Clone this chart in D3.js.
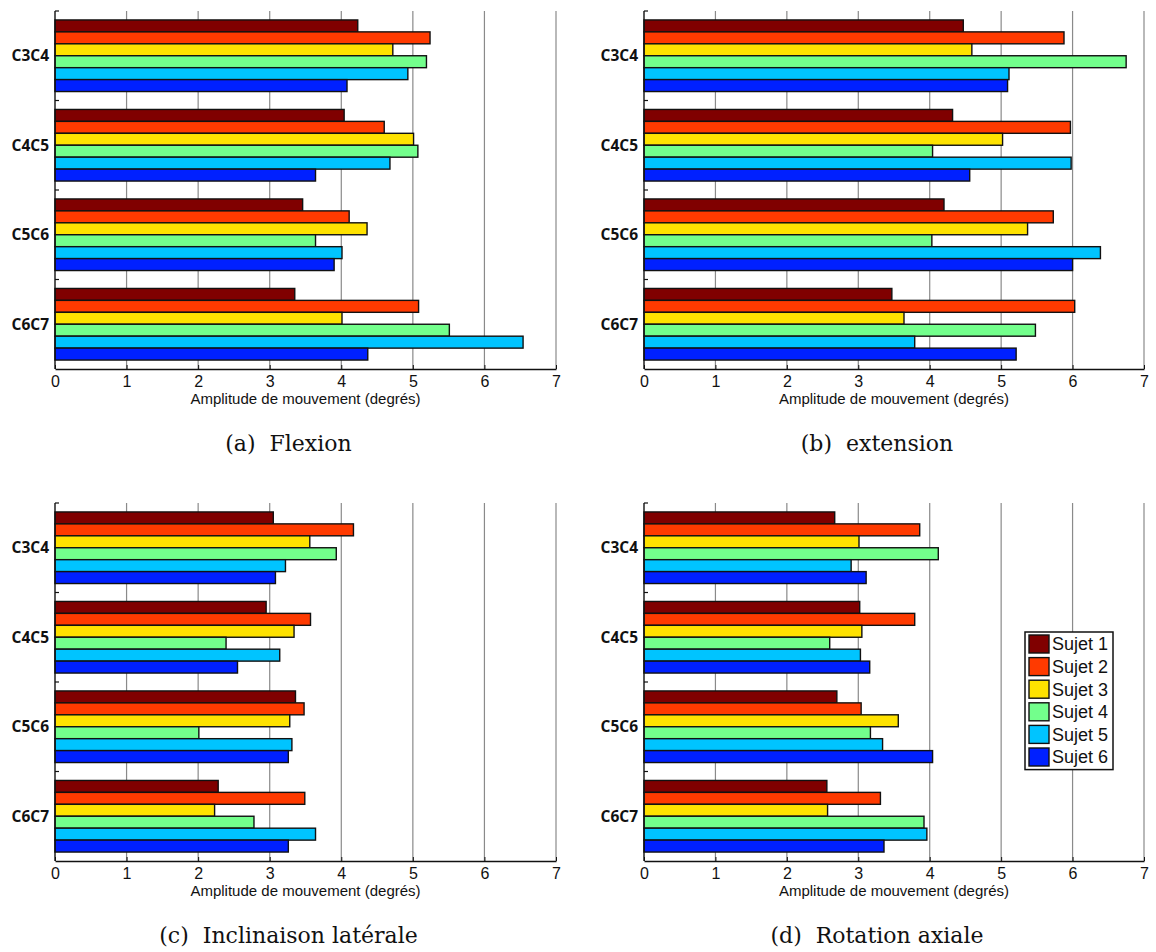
<!DOCTYPE html>
<html>
<head>
<meta charset="utf-8">
<script src="https://cdn.jsdelivr.net/npm/d3@7"></script>
<style>
  html, body { margin: 0; padding: 0; background: #ffffff; }
  svg { display: block; }
</style>
</head>
<body>
<svg id="chart" width="1156" height="952"></svg>
<script>
// ---- data ----
const categories = ["C3C4", "C4C5", "C5C6", "C6C7"];
const subjects = ["Sujet 1", "Sujet 2", "Sujet 3", "Sujet 4", "Sujet 5", "Sujet 6"];
const subjectColors = ["#800000", "#FF3A00", "#FFE200", "#73FF8C", "#00C4FF", "#0020FF"];
const xTicks = [0, 1, 2, 3, 4, 5, 6, 7];
const xLabel = "Amplitude de mouvement (degrés)";

// values[category][subject]
const flexion = [
  [4.23, 5.24, 4.72, 5.19, 4.93, 4.08],
  [4.04, 4.60, 5.01, 5.07, 4.68, 3.64],
  [3.46, 4.11, 4.36, 3.64, 4.01, 3.90],
  [3.35, 5.08, 4.01, 5.51, 6.54, 4.37]
];
const extension = [
  [4.47, 5.88, 4.59, 6.75, 5.11, 5.09],
  [4.32, 5.97, 5.02, 4.04, 5.98, 4.56],
  [4.20, 5.73, 5.37, 4.03, 6.39, 6.00],
  [3.47, 6.03, 3.64, 5.48, 3.79, 5.21]
];
const inclinaison = [
  [3.05, 4.17, 3.56, 3.93, 3.22, 3.08],
  [2.95, 3.57, 3.34, 2.39, 3.14, 2.55],
  [3.36, 3.48, 3.28, 2.01, 3.31, 3.26],
  [2.28, 3.49, 2.23, 2.78, 3.64, 3.26]
];
const rotation = [
  [2.67, 3.86, 3.01, 4.12, 2.90, 3.11],
  [3.02, 3.79, 3.05, 2.60, 3.03, 3.16],
  [2.70, 3.04, 3.56, 3.17, 3.34, 4.04],
  [2.56, 3.31, 2.57, 3.92, 3.96, 3.36]
];
const captions = ["(a)  Flexion", "(b)  extension", "(c)  Inclinaison latérale", "(d)  Rotation axiale"];

// ---- layout ----
const panels = [
  { data: flexion,     caption: captions[0], left: 55,  top: 11,  right: 556,  bottom: 369, legend: false },
  { data: extension,   caption: captions[1], left: 644, top: 11,  right: 1144, bottom: 369, legend: false },
  { data: inclinaison, caption: captions[2], left: 55,  top: 503, right: 556,  bottom: 861, legend: false },
  { data: rotation,    caption: captions[3], left: 644, top: 503, right: 1144, bottom: 861, legend: true }
];

const svg = d3.select("#chart");

panels.forEach(p => {
  const g = svg.append("g");
  const x = d3.scaleLinear().domain([0, 7]).range([p.left, p.right]);
  const y = d3.scaleBand().domain(categories).range([p.top, p.bottom])
    .paddingInner(0.2).paddingOuter(0.1);
  const ySub = d3.scaleBand().domain(d3.range(subjects.length)).range([0, y.bandwidth()]);
  const yLin = d3.scaleLinear().domain([0.5, categories.length + 0.5]).range([p.top, p.bottom]);

  // grid lines
  g.append("g").selectAll("line").data(xTicks.filter(t => t > 0)).join("line")
    .attr("x1", d => x(d)).attr("x2", d => x(d))
    .attr("y1", p.top).attr("y2", p.bottom)
    .attr("stroke", "#8a8a8a").attr("stroke-width", 1.2);

  // bars
  categories.forEach((c, ci) => {
    g.append("g").selectAll("rect").data(p.data[ci]).join("rect")
      .attr("x", x(0))
      .attr("y", (d, si) => y(c) + ySub(si))
      .attr("width", d => x(d) - x(0))
      .attr("height", ySub.bandwidth())
      .attr("fill", (d, si) => subjectColors[si])
      .attr("stroke", "#111")
      .attr("stroke-width", 1.4);
  });

  // x axis
  const xAxis = d3.axisBottom(x).tickValues(xTicks).tickFormat(d3.format("d"))
    .tickSizeInner(-4).tickSizeOuter(0).tickPadding(7);
  const ax = g.append("g").attr("transform", `translate(0,${p.bottom})`).call(xAxis);
  ax.select(".domain").attr("stroke", "#111").attr("stroke-width", 1.4);
  ax.selectAll(".tick line").attr("stroke", "#111");
  ax.selectAll(".tick text").attr("font-family", "Liberation Sans, Arial, sans-serif")
    .attr("font-size", 16).attr("fill", "#111");

  // y axis line
  g.append("line").attr("x1", p.left).attr("x2", p.left)
    .attr("y1", p.top).attr("y2", p.bottom)
    .attr("stroke", "#111").attr("stroke-width", 1.4);
  // y boundary ticks
  g.append("g").selectAll("line").data(d3.range(0.5, categories.length + 0.5, 1)).join("line")
    .attr("x1", p.left).attr("x2", p.left + 4)
    .attr("y1", d => yLin(d)).attr("y2", d => yLin(d))
    .attr("stroke", "#111").attr("stroke-width", 1.2);

  // category labels
  g.append("g").selectAll("text").data(categories).join("text")
    .attr("x", p.left - 6)
    .attr("y", d => y(d) + y.bandwidth() / 2)
    .attr("dy", "0.36em")
    .attr("text-anchor", "end")
    .attr("font-family", "Open Sans, sans-serif")
    .attr("font-weight", 700)
    .attr("font-size", 15.5)
    .attr("fill", "#111")
    .text(d => d);

  // x label
  g.append("text")
    .attr("x", (p.left + p.right) / 2)
    .attr("y", p.bottom + 35)
    .attr("text-anchor", "middle")
    .attr("font-family", "Liberation Sans, Arial, sans-serif")
    .attr("font-size", 15)
    .attr("fill", "#111")
    .text(xLabel);

  // caption
  g.append("text")
    .attr("x", (p.left + p.right) / 2 - 17)
    .attr("y", p.bottom + 82)
    .attr("text-anchor", "middle")
    .attr("font-family", "DejaVu Serif, serif")
    .attr("font-size", 22)
    .attr("fill", "#111")
    .attr("xml:space", "preserve")
    .style("white-space", "pre")
    .text(p.caption);

  // legend
  if (p.legend) {
    const lx = 1025, ly = 632, lw = 88, rowH = 22.6;
    const lg = g.append("g");
    lg.append("rect").attr("x", lx).attr("y", ly).attr("width", lw)
      .attr("height", rowH * subjects.length + 2)
      .attr("fill", "#fff").attr("stroke", "#111").attr("stroke-width", 1.5);
    const rows = lg.selectAll("g").data(subjects).join("g")
      .attr("transform", (d, i) => `translate(${lx + 4},${ly + 3 + i * rowH})`);
    rows.append("rect").attr("width", 20).attr("height", 18)
      .attr("fill", (d, i) => subjectColors[i])
      .attr("stroke", "#111").attr("stroke-width", 1.4);
    rows.append("text").attr("x", 23).attr("y", 9).attr("dy", "0.36em")
      .attr("font-family", "Liberation Sans, Arial, sans-serif")
      .attr("font-size", 18).attr("fill", "#111")
      .text(d => d);
  }
});
</script>
</body>
</html>
